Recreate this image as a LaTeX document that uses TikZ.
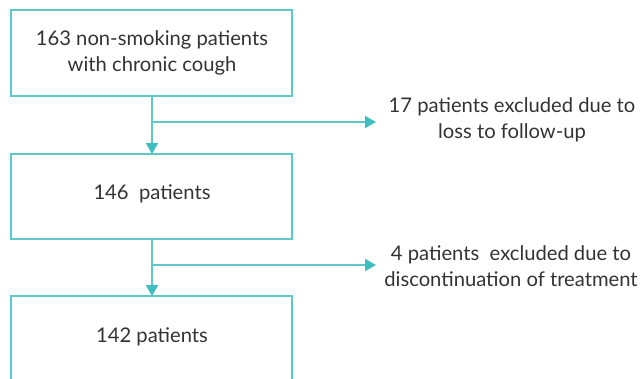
\documentclass[tikz,border=0pt]{standalone}
\usepackage{fontspec}
\setmainfont{Lato}
\usetikzlibrary{arrows.meta}
\definecolor{teal1}{HTML}{5CC8C8}
\definecolor{tealtip}{HTML}{3EBEC0}
\definecolor{txt}{HTML}{333333}
\tikzset{
  box/.style={draw=teal1, line width=1.6pt, fill=white},
  lbl/.style={text=txt, font=\fontsize{20.2}{26}\selectfont, align=center, inner sep=0pt},
  conn/.style={draw=teal1, line width=1.8pt, -{Triangle[width=12pt,length=11pt,color=tealtip]}},
  seg/.style={draw=teal1, line width=1.8pt},
}
\begin{document}
\begin{tikzpicture}[x=1pt,y=-1pt]
\useasboundingbox (0,0) rectangle (643,378);
\clip (0,0) rectangle (643,378);
\draw[box] (11,10) rectangle (292,96);
\draw[box] (11,154) rectangle (292,239);
\draw[box] (11,296) rectangle (292,384);
\node[lbl] (t1) at (152,53) {163 non-smoking patients\\with chronic cough};
\node[lbl] (t2) at (152,194) {146\ \ patients};
\node[lbl] (t3) at (152,337) {142 patients};
\coordinate (b1top) at (152,154);
\coordinate (b1bot) at (152,96);
\coordinate (b2top) at (152,296);
\coordinate (b2bot) at (152,239);
\coordinate (j1) at (152,122);
\coordinate (j2) at (152,265);
\coordinate (e1) at (376,122);
\coordinate (e2) at (376,265);
\node[lbl] (x1) at (512,120) {17 patients excluded due to\\loss to follow-up};
\node[lbl] (x2) at (511,266) {4 patients\ \ excluded due to\\discontinuation of treatment};
\draw[conn] (b1bot) -- (b1top);
\draw[conn] (j1) -- (e1);
\draw[conn] (b2bot) -- (b2top);
\draw[conn] (j2) -- (e2);
\end{tikzpicture}
\end{document}
